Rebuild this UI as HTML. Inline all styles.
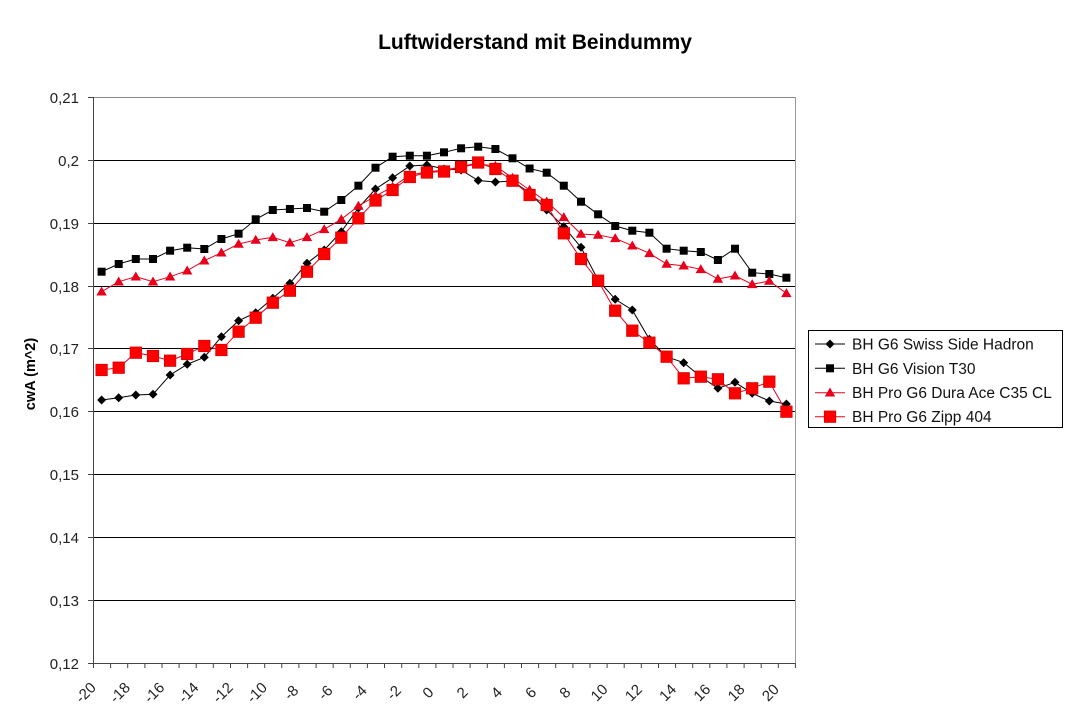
<!DOCTYPE html>
<html><head><meta charset="utf-8"><style>
html,body{margin:0;padding:0;background:#fff;}
svg{display:block;}
text{font-family:"Liberation Sans",Arial,sans-serif;}
</style></head><body>
<svg width="1068" height="712" viewBox="0 0 1068 712" xmlns="http://www.w3.org/2000/svg">
<defs>
<polygon id="dm" points="0,-4.5 4.5,0 0,4.5 -4.5,0" fill="#000"/>
<rect id="bs" x="-4" y="-4" width="8" height="8" fill="#000"/>
<polygon id="tr" points="0,-5.2 5.2,3.8 -5.2,3.8" fill="#e8001c"/>
<rect id="rs" x="-5.8" y="-5.8" width="11.6" height="11.6" fill="#f00" stroke="#c00" stroke-width="0.6"/>
</defs>
<rect width="1068" height="712" fill="#fff"/>
<text x="535" y="49" font-size="21px" font-weight="bold" text-anchor="middle" fill="#000">Luftwiderstand mit Beindummy</text>
<text transform="translate(35,374) rotate(-90)" font-size="14.5px" font-weight="bold" text-anchor="middle" fill="#000">cwA (m^2)</text>
<!-- grid -->
<g stroke="#000" stroke-width="1">
<line x1="93" y1="160.5" x2="795" y2="160.5"/>
<line x1="93" y1="223.5" x2="795" y2="223.5"/>
<line x1="93" y1="286.5" x2="795" y2="286.5"/>
<line x1="93" y1="348.5" x2="795" y2="348.5"/>
<line x1="93" y1="411.5" x2="795" y2="411.5"/>
<line x1="93" y1="474.5" x2="795" y2="474.5"/>
<line x1="93" y1="537.5" x2="795" y2="537.5"/>
<line x1="93" y1="600.5" x2="795" y2="600.5"/>
</g>
<line x1="93" y1="97.5" x2="795.5" y2="97.5" stroke="#888" stroke-width="1"/>
<line x1="795.5" y1="97" x2="795.5" y2="663" stroke="#999" stroke-width="1"/>
<line x1="93.5" y1="97" x2="93.5" y2="664" stroke="#444" stroke-width="1"/>
<line x1="93" y1="663.5" x2="795.5" y2="663.5" stroke="#444" stroke-width="1"/>
<!-- y ticks -->
<g stroke="#444" stroke-width="1">
<line x1="88" y1="97.5" x2="93" y2="97.5"/><line x1="88" y1="160.5" x2="93" y2="160.5"/>
<line x1="88" y1="223.5" x2="93" y2="223.5"/><line x1="88" y1="286.5" x2="93" y2="286.5"/>
<line x1="88" y1="348.5" x2="93" y2="348.5"/><line x1="88" y1="411.5" x2="93" y2="411.5"/>
<line x1="88" y1="474.5" x2="93" y2="474.5"/><line x1="88" y1="537.5" x2="93" y2="537.5"/>
<line x1="88" y1="600.5" x2="93" y2="600.5"/><line x1="88" y1="663.5" x2="93" y2="663.5"/>
</g>
<g font-size="15px" fill="#222" text-anchor="end">
<text x="79" y="103">0,21</text><text x="79" y="166">0,2</text>
<text x="79" y="229">0,19</text><text x="79" y="292">0,18</text>
<text x="79" y="354">0,17</text><text x="79" y="417">0,16</text>
<text x="79" y="480">0,15</text><text x="79" y="543">0,14</text>
<text x="79" y="606">0,13</text><text x="79" y="669">0,12</text>
</g>
<!-- x ticks -->
<g stroke="#444" stroke-width="1">
<line x1="93.5" y1="663" x2="93.5" y2="668"/><line x1="110.6" y1="663" x2="110.6" y2="668"/><line x1="127.7" y1="663" x2="127.7" y2="668"/><line x1="144.9" y1="663" x2="144.9" y2="668"/><line x1="162" y1="663" x2="162" y2="668"/><line x1="179.1" y1="663" x2="179.1" y2="668"/><line x1="196.2" y1="663" x2="196.2" y2="668"/><line x1="213.3" y1="663" x2="213.3" y2="668"/><line x1="230.5" y1="663" x2="230.5" y2="668"/><line x1="247.6" y1="663" x2="247.6" y2="668"/><line x1="264.7" y1="663" x2="264.7" y2="668"/><line x1="281.8" y1="663" x2="281.8" y2="668"/><line x1="298.9" y1="663" x2="298.9" y2="668"/><line x1="316.1" y1="663" x2="316.1" y2="668"/><line x1="333.2" y1="663" x2="333.2" y2="668"/><line x1="350.3" y1="663" x2="350.3" y2="668"/><line x1="367.4" y1="663" x2="367.4" y2="668"/><line x1="384.5" y1="663" x2="384.5" y2="668"/><line x1="401.7" y1="663" x2="401.7" y2="668"/><line x1="418.8" y1="663" x2="418.8" y2="668"/><line x1="435.9" y1="663" x2="435.9" y2="668"/><line x1="453" y1="663" x2="453" y2="668"/><line x1="470.1" y1="663" x2="470.1" y2="668"/><line x1="487.3" y1="663" x2="487.3" y2="668"/><line x1="504.4" y1="663" x2="504.4" y2="668"/><line x1="521.5" y1="663" x2="521.5" y2="668"/><line x1="538.6" y1="663" x2="538.6" y2="668"/><line x1="555.7" y1="663" x2="555.7" y2="668"/><line x1="572.9" y1="663" x2="572.9" y2="668"/><line x1="590" y1="663" x2="590" y2="668"/><line x1="607.1" y1="663" x2="607.1" y2="668"/><line x1="624.2" y1="663" x2="624.2" y2="668"/><line x1="641.3" y1="663" x2="641.3" y2="668"/><line x1="658.5" y1="663" x2="658.5" y2="668"/><line x1="675.6" y1="663" x2="675.6" y2="668"/><line x1="692.7" y1="663" x2="692.7" y2="668"/><line x1="709.8" y1="663" x2="709.8" y2="668"/><line x1="726.9" y1="663" x2="726.9" y2="668"/><line x1="744.1" y1="663" x2="744.1" y2="668"/><line x1="761.2" y1="663" x2="761.2" y2="668"/><line x1="778.3" y1="663" x2="778.3" y2="668"/><line x1="795.4" y1="663" x2="795.4" y2="668"/>
</g>
<g font-size="15px" fill="#222" text-anchor="middle" dominant-baseline="central">
<text x="86" y="693" transform="rotate(-45 86 693)">-20</text>
<text x="120.2" y="693" transform="rotate(-45 120.2 693)">-18</text>
<text x="154.5" y="693" transform="rotate(-45 154.5 693)">-16</text>
<text x="188.7" y="693" transform="rotate(-45 188.7 693)">-14</text>
<text x="223" y="693" transform="rotate(-45 223 693)">-12</text>
<text x="257.2" y="693" transform="rotate(-45 257.2 693)">-10</text>
<text x="291.5" y="693" transform="rotate(-45 291.5 693)">-8</text>
<text x="325.7" y="693" transform="rotate(-45 325.7 693)">-6</text>
<text x="359.9" y="693" transform="rotate(-45 359.9 693)">-4</text>
<text x="394.2" y="693" transform="rotate(-45 394.2 693)">-2</text>
<text x="428.4" y="693" transform="rotate(-45 428.4 693)">0</text>
<text x="462.6" y="693" transform="rotate(-45 462.6 693)">2</text>
<text x="496.9" y="693" transform="rotate(-45 496.9 693)">4</text>
<text x="531.1" y="693" transform="rotate(-45 531.1 693)">6</text>
<text x="565.4" y="693" transform="rotate(-45 565.4 693)">8</text>
<text x="599.6" y="693" transform="rotate(-45 599.6 693)">10</text>
<text x="633.9" y="693" transform="rotate(-45 633.9 693)">12</text>
<text x="668.1" y="693" transform="rotate(-45 668.1 693)">14</text>
<text x="702.3" y="693" transform="rotate(-45 702.3 693)">16</text>
<text x="736.6" y="693" transform="rotate(-45 736.6 693)">18</text>
<text x="770.8" y="693" transform="rotate(-45 770.8 693)">20</text>
</g>
<!-- series lines -->
<polyline fill="none" stroke="#000" stroke-width="1" points="101.6,400 118.7,397.7 135.8,395 153,394.3 170.1,375 187.2,364.3 204.3,357.3 221.4,336.7 238.6,320.7 255.7,312.7 272.8,298.3 289.9,283.3 307,263.3 324.2,250 341.3,231.7 358.4,208 375.5,189 392.6,177.7 409.8,166 426.9,165 444,169 461.1,170 478.2,180.5 495.4,182 512.5,181 529.6,193 546.7,210 563.8,226.7 581,247.3 598.1,280 615.2,299.3 632.3,310 649.4,339.3 666.6,356.7 683.7,362.7 700.8,376.7 717.9,388.3 735,382.3 752.2,393.3 769.3,401 786.4,404"/>
<polyline fill="none" stroke="#000" stroke-width="1" points="101.6,271.7 118.7,264 135.8,259 153,259 170.1,250.7 187.2,247.7 204.3,249 221.4,239 238.6,233.7 255.7,219.3 272.8,210 289.9,209 307,208 324.2,211.7 341.3,200 358.4,185.7 375.5,167.7 392.6,156.7 409.8,155.7 426.9,155.7 444,152.3 461.1,148.3 478.2,146.7 495.4,149 512.5,158.3 529.6,168.5 546.7,172.7 563.8,185.7 581,201.7 598.1,214.3 615.2,226 632.3,230.7 649.4,232.7 666.6,248.7 683.7,250.7 700.8,252 717.9,260 735,248.7 752.2,272.7 769.3,274 786.4,277.7"/>
<polyline fill="none" stroke="#e8001c" stroke-width="1" points="101.6,291.7 118.7,281.7 135.8,276.7 153,281.7 170.1,276.7 187.2,270.7 204.3,260.7 221.4,252.7 238.6,244 255.7,240 272.8,237.3 289.9,242.7 307,237.3 324.2,229.3 341.3,219.3 358.4,206 375.5,196 392.6,187 409.8,175 426.9,172 444,170 461.1,167 478.2,164 495.4,166 512.5,178 529.6,190 546.7,201.7 563.8,217.3 581,234 598.1,235 615.2,238.3 632.3,245.7 649.4,253.3 666.6,264 683.7,265.7 700.8,269.3 717.9,279 735,275.7 752.2,284.3 769.3,281 786.4,293.3"/>
<polyline fill="none" stroke="#e8001c" stroke-width="1" points="101.6,370 118.7,367.7 135.8,352.7 153,356 170.1,360.7 187.2,354 204.3,346 221.4,350 238.6,331.7 255.7,317.7 272.8,302.7 289.9,290.7 307,271.7 324.2,254 341.3,237.7 358.4,218.3 375.5,200.5 392.6,190 409.8,177 426.9,172.5 444,171.5 461.1,167 478.2,162.5 495.4,169 512.5,180.7 529.6,195 546.7,205 563.8,233.3 581,259 598.1,280.7 615.2,310.7 632.3,330.7 649.4,342.7 666.6,356.7 683.7,378.3 700.8,376.7 717.9,379.3 735,393.3 752.2,388.3 769.3,381.7 786.4,411.7"/>
<!-- Hadron markers -->
<g>
<use href="#dm" x="101.6" y="400"/><use href="#dm" x="118.7" y="397.7"/><use href="#dm" x="135.8" y="395"/><use href="#dm" x="153" y="394.3"/><use href="#dm" x="170.1" y="375"/><use href="#dm" x="187.2" y="364.3"/><use href="#dm" x="204.3" y="357.3"/><use href="#dm" x="221.4" y="336.7"/><use href="#dm" x="238.6" y="320.7"/><use href="#dm" x="255.7" y="312.7"/><use href="#dm" x="272.8" y="298.3"/><use href="#dm" x="289.9" y="283.3"/><use href="#dm" x="307" y="263.3"/><use href="#dm" x="324.2" y="250"/><use href="#dm" x="341.3" y="231.7"/><use href="#dm" x="358.4" y="208"/><use href="#dm" x="375.5" y="189"/><use href="#dm" x="392.6" y="177.7"/><use href="#dm" x="409.8" y="166"/><use href="#dm" x="426.9" y="165"/><use href="#dm" x="444" y="169"/><use href="#dm" x="461.1" y="170"/><use href="#dm" x="478.2" y="180.5"/><use href="#dm" x="495.4" y="182"/><use href="#dm" x="512.5" y="181"/><use href="#dm" x="529.6" y="193"/><use href="#dm" x="546.7" y="210"/><use href="#dm" x="563.8" y="226.7"/><use href="#dm" x="581" y="247.3"/><use href="#dm" x="598.1" y="280"/><use href="#dm" x="615.2" y="299.3"/><use href="#dm" x="632.3" y="310"/><use href="#dm" x="649.4" y="339.3"/><use href="#dm" x="666.6" y="356.7"/><use href="#dm" x="683.7" y="362.7"/><use href="#dm" x="700.8" y="376.7"/><use href="#dm" x="717.9" y="388.3"/><use href="#dm" x="735" y="382.3"/><use href="#dm" x="752.2" y="393.3"/><use href="#dm" x="769.3" y="401"/><use href="#dm" x="786.4" y="404"/>
</g>
<!-- Vision markers -->
<g>
<use href="#bs" x="101.6" y="271.7"/><use href="#bs" x="118.7" y="264"/><use href="#bs" x="135.8" y="259"/><use href="#bs" x="153" y="259"/><use href="#bs" x="170.1" y="250.7"/><use href="#bs" x="187.2" y="247.7"/><use href="#bs" x="204.3" y="249"/><use href="#bs" x="221.4" y="239"/><use href="#bs" x="238.6" y="233.7"/><use href="#bs" x="255.7" y="219.3"/><use href="#bs" x="272.8" y="210"/><use href="#bs" x="289.9" y="209"/><use href="#bs" x="307" y="208"/><use href="#bs" x="324.2" y="211.7"/><use href="#bs" x="341.3" y="200"/><use href="#bs" x="358.4" y="185.7"/><use href="#bs" x="375.5" y="167.7"/><use href="#bs" x="392.6" y="156.7"/><use href="#bs" x="409.8" y="155.7"/><use href="#bs" x="426.9" y="155.7"/><use href="#bs" x="444" y="152.3"/><use href="#bs" x="461.1" y="148.3"/><use href="#bs" x="478.2" y="146.7"/><use href="#bs" x="495.4" y="149"/><use href="#bs" x="512.5" y="158.3"/><use href="#bs" x="529.6" y="168.5"/><use href="#bs" x="546.7" y="172.7"/><use href="#bs" x="563.8" y="185.7"/><use href="#bs" x="581" y="201.7"/><use href="#bs" x="598.1" y="214.3"/><use href="#bs" x="615.2" y="226"/><use href="#bs" x="632.3" y="230.7"/><use href="#bs" x="649.4" y="232.7"/><use href="#bs" x="666.6" y="248.7"/><use href="#bs" x="683.7" y="250.7"/><use href="#bs" x="700.8" y="252"/><use href="#bs" x="717.9" y="260"/><use href="#bs" x="735" y="248.7"/><use href="#bs" x="752.2" y="272.7"/><use href="#bs" x="769.3" y="274"/><use href="#bs" x="786.4" y="277.7"/>
</g>
<!-- Dura Ace markers -->
<g>
<use href="#tr" x="101.6" y="291.7"/><use href="#tr" x="118.7" y="281.7"/><use href="#tr" x="135.8" y="276.7"/><use href="#tr" x="153" y="281.7"/><use href="#tr" x="170.1" y="276.7"/><use href="#tr" x="187.2" y="270.7"/><use href="#tr" x="204.3" y="260.7"/><use href="#tr" x="221.4" y="252.7"/><use href="#tr" x="238.6" y="244"/><use href="#tr" x="255.7" y="240"/><use href="#tr" x="272.8" y="237.3"/><use href="#tr" x="289.9" y="242.7"/><use href="#tr" x="307" y="237.3"/><use href="#tr" x="324.2" y="229.3"/><use href="#tr" x="341.3" y="219.3"/><use href="#tr" x="358.4" y="206"/><use href="#tr" x="375.5" y="196"/><use href="#tr" x="392.6" y="187"/><use href="#tr" x="409.8" y="175"/><use href="#tr" x="426.9" y="172"/><use href="#tr" x="444" y="170"/><use href="#tr" x="461.1" y="167"/><use href="#tr" x="478.2" y="164"/><use href="#tr" x="495.4" y="166"/><use href="#tr" x="512.5" y="178"/><use href="#tr" x="529.6" y="190"/><use href="#tr" x="546.7" y="201.7"/><use href="#tr" x="563.8" y="217.3"/><use href="#tr" x="581" y="234"/><use href="#tr" x="598.1" y="235"/><use href="#tr" x="615.2" y="238.3"/><use href="#tr" x="632.3" y="245.7"/><use href="#tr" x="649.4" y="253.3"/><use href="#tr" x="666.6" y="264"/><use href="#tr" x="683.7" y="265.7"/><use href="#tr" x="700.8" y="269.3"/><use href="#tr" x="717.9" y="279"/><use href="#tr" x="735" y="275.7"/><use href="#tr" x="752.2" y="284.3"/><use href="#tr" x="769.3" y="281"/><use href="#tr" x="786.4" y="293.3"/>
</g>
<!-- Zipp markers -->
<g>
<use href="#rs" x="101.6" y="370"/><use href="#rs" x="118.7" y="367.7"/><use href="#rs" x="135.8" y="352.7"/><use href="#rs" x="153" y="356"/><use href="#rs" x="170.1" y="360.7"/><use href="#rs" x="187.2" y="354"/><use href="#rs" x="204.3" y="346"/><use href="#rs" x="221.4" y="350"/><use href="#rs" x="238.6" y="331.7"/><use href="#rs" x="255.7" y="317.7"/><use href="#rs" x="272.8" y="302.7"/><use href="#rs" x="289.9" y="290.7"/><use href="#rs" x="307" y="271.7"/><use href="#rs" x="324.2" y="254"/><use href="#rs" x="341.3" y="237.7"/><use href="#rs" x="358.4" y="218.3"/><use href="#rs" x="375.5" y="200.5"/><use href="#rs" x="392.6" y="190"/><use href="#rs" x="409.8" y="177"/><use href="#rs" x="426.9" y="172.5"/><use href="#rs" x="444" y="171.5"/><use href="#rs" x="461.1" y="167"/><use href="#rs" x="478.2" y="162.5"/><use href="#rs" x="495.4" y="169"/><use href="#rs" x="512.5" y="180.7"/><use href="#rs" x="529.6" y="195"/><use href="#rs" x="546.7" y="205"/><use href="#rs" x="563.8" y="233.3"/><use href="#rs" x="581" y="259"/><use href="#rs" x="598.1" y="280.7"/><use href="#rs" x="615.2" y="310.7"/><use href="#rs" x="632.3" y="330.7"/><use href="#rs" x="649.4" y="342.7"/><use href="#rs" x="666.6" y="356.7"/><use href="#rs" x="683.7" y="378.3"/><use href="#rs" x="700.8" y="376.7"/><use href="#rs" x="717.9" y="379.3"/><use href="#rs" x="735" y="393.3"/><use href="#rs" x="752.2" y="388.3"/><use href="#rs" x="769.3" y="381.7"/><use href="#rs" x="786.4" y="411.7"/>
</g>
<!-- legend -->
<rect x="808.5" y="330.5" width="254" height="97" fill="#fff" stroke="#000" stroke-width="1"/>
<line x1="815" y1="344" x2="845" y2="344" stroke="#000" stroke-width="1"/><use href="#dm" x="830" y="344"/>
<line x1="815" y1="368.3" x2="845" y2="368.3" stroke="#000" stroke-width="1"/><use href="#bs" x="830" y="368.3"/>
<line x1="815" y1="392.7" x2="845" y2="392.7" stroke="#e8001c" stroke-width="1"/><use href="#tr" x="830" y="392.7"/>
<line x1="815" y1="416.7" x2="845" y2="416.7" stroke="#e8001c" stroke-width="1"/><use href="#rs" x="830" y="416.7"/>
<g font-size="15.5px" fill="#111">
<text x="852" y="349.5">BH G6 Swiss Side Hadron</text>
<text x="852" y="373.8">BH G6 Vision T30</text>
<text x="852" y="398.2">BH Pro G6 Dura Ace C35 CL</text>
<text x="852" y="422.2">BH Pro G6 Zipp 404</text>
</g>
</svg>
</body></html>
